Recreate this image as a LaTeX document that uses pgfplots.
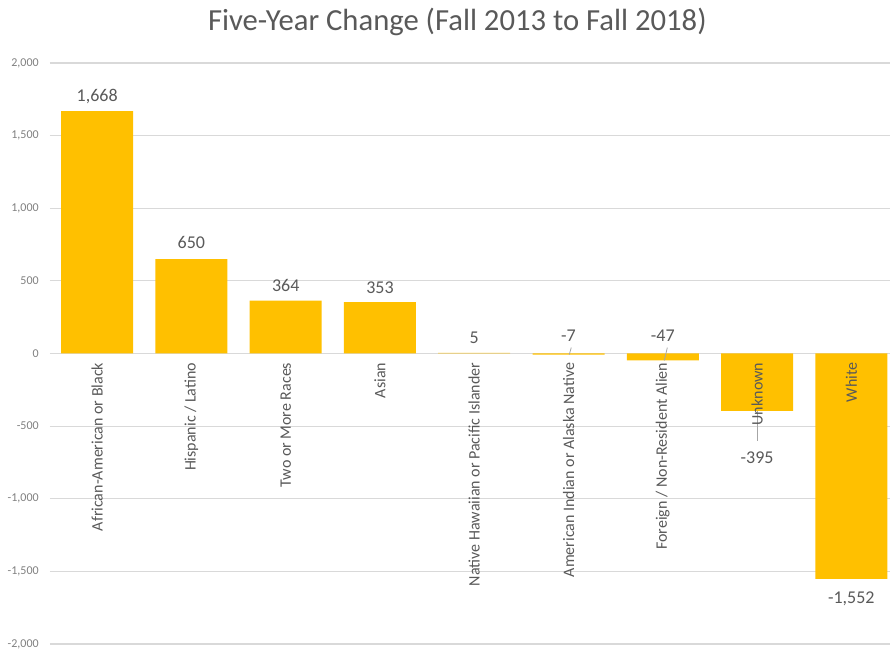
\documentclass[border=0pt]{standalone}
\usepackage{fontspec}
\setmainfont{Carlito}
\usepackage{pgfplots}
\usepackage{pgfplotstable}
\pgfplotsset{compat=1.18}
\definecolor{bargold}{HTML}{FFC000}
\definecolor{txtgray}{HTML}{595959}
\definecolor{tickgray}{HTML}{7F7F7F}
\definecolor{gridgray}{HTML}{D9D9D9}

\pgfplotstableread[col sep=semicolon]{
x;y;ly;cy;lab;cat
0;1668;1772;-62;1,668;African-American or Black
1;650;766;-62;650;Hispanic / Latino
2;364;469;-62;364;Two or More Races
3;353;455;-62;353;Asian
4;5;110;-62;5;Native Hawaiian or Pacific Islander
5;-7;124;-62;-7;American Indian or Alaska Native
6;-47;124;-62;-47;Foreign / Non-Resident Alien
7;-395;-717;-62;-395;Unknown
8;-1552;-1690;-62;-1,552;White
}\datatable

\begin{document}
\begin{tikzpicture}
\path[use as bounding box] (0,0) rectangle (667.5pt,486.75pt);
\begin{axis}[
  at={(37.5pt,3.75pt)}, anchor=south west,
  scale only axis, width=630pt, height=435.75pt,
  xmin=-0.5, xmax=8.41, ymin=-2000, ymax=2000,
  axis x line=middle, axis y line=left,
  x axis line style={-, draw=gridgray, line width=0.8pt},
  y axis line style={draw=none},
  ymajorgrids, major grid style={draw=gridgray, line width=0.8pt},
  major tick length=0pt,
  xtick={0,...,8},
  xticklabels={},
  ytick={-2000,-1500,-1000,-500,0,500,1000,1500,2000},
  yticklabels={{-2,000},{-1,500},{-1,000},{-500},{0},{500},{1,000},{1,500},{2,000}},
  yticklabel style={anchor=east, inner sep=0pt, xshift=-8.25pt, font=\fontsize{9}{11}\selectfont, text=tickgray},
  clip=false,
]
\addplot[ybar, bar width=54pt, bar shift=0pt, fill=bargold, draw=none] table[x=x, y=y] {\datatable};
\addplot[draw=none, mark=none, nodes near coords, point meta=explicit symbolic,
  nodes near coords align={center},
  every node near coord/.style={anchor=center, font=\fontsize{13.5}{16}\selectfont, text=txtgray}]
  table[x=x, y=ly, meta=lab] {\datatable};
\addplot[draw=none, mark=none, nodes near coords, point meta=explicit symbolic,
  nodes near coords align={center},
  every node near coord/.style={rotate=90, anchor=east, inner sep=0pt, font=\fontsize{12}{14}\selectfont, text=txtgray}]
  table[x=x, y=cy, meta=cat] {\datatable};
\addplot[draw=gray!70, line width=0.6pt] coordinates {(7,-395) (7,-600)};
\addplot[draw=gray!70, line width=0.6pt] coordinates {(6.048,41) (6.016,-48)};
\addplot[draw=gray!70, line width=0.6pt] coordinates {(5.029,41) (5.008,-7)};
\end{axis}
\node[text=txtgray, font=\fontsize{23}{27}\selectfont] at (343pt,470.25pt) {Five-Year Change (Fall 2013 to Fall 2018)};
\end{tikzpicture}
\end{document}
